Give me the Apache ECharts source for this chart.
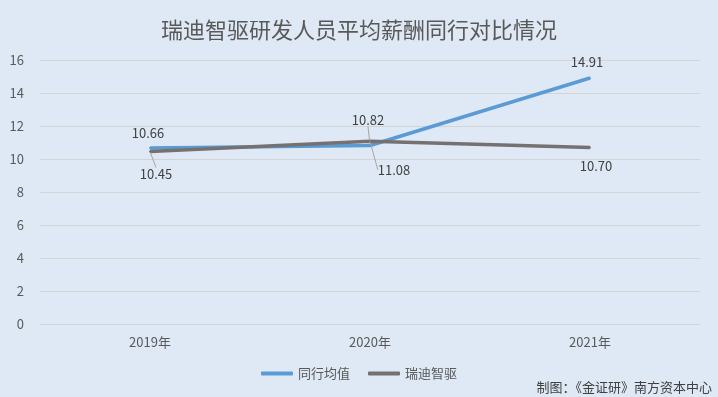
<!DOCTYPE html>
<html>
<head>
<meta charset="utf-8">
<script src="https://cdn.jsdelivr.net/npm/echarts@6/dist/echarts.min.js"></script>
<style>
  html, body { margin: 0; padding: 0; }
  #main { width: 718px; height: 397px; }
</style>
</head>
<body>
<div id="main"></div>
<script>
  var years = ['2019年', '2020年', '2021年'];
  var peerAvg = [10.66, 10.82, 14.91];   // 同行均值
  var ruidi = [10.45, 11.08, 10.70];     // 瑞迪智驱
  var yTicks = [0, 2, 4, 6, 8, 10, 12, 14, 16];

  var font = 'Noto Sans CJK SC';
  var textColor = '#595959';

  // 标签拖动位置（仿 Excel 手动调整）
  var peerShift = [[-2, -2], [-2, -12], [-3, -2]];
  var ruidiShift = [[6, 9], [24, 15], [6, 5]];
  var peerLine = [false, true, false];
  var ruidiLine = [true, true, false];

  function makeData(vals, lines) {
    return vals.map(function (v, i) {
      return { value: v, labelLine: { show: lines[i] } };
    });
  }

  function layoutFn(shift) {
    return function (p) {
      var s = shift[p.dataIndex];
      return { dx: s[0], dy: s[1] };
    };
  }

  var myChart = echarts.init(document.getElementById('main'));
  myChart.setOption({
    backgroundColor: '#dee9f5',
    animation: false,
    title: {
      text: '瑞迪智驱研发人员平均薪酬同行对比情况',
      left: 'center',
      top: 14,
      textStyle: { fontFamily: font, fontSize: 22, fontWeight: 'normal', color: textColor }
    },
    grid: { left: 40, right: 18, top: 60, bottom: 73 },
    legend: {
      bottom: 12,
      left: 'center',
      icon: 'roundRect',
      itemWidth: 32,
      itemHeight: 4,
      itemGap: 18,
      textStyle: { fontFamily: font, fontSize: 13, color: textColor },
      data: ['同行均值', '瑞迪智驱']
    },
    xAxis: {
      type: 'category',
      data: years,
      boundaryGap: true,
      axisLine: { show: false },
      axisTick: { show: false },
      axisLabel: { fontFamily: font, fontSize: 13, color: textColor, margin: 12 }
    },
    yAxis: {
      type: 'value',
      min: yTicks[0],
      max: yTicks[yTicks.length - 1],
      interval: 2,
      axisLine: { show: false },
      axisTick: { show: false },
      splitLine: { lineStyle: { color: '#d4d4d4', width: 1 } },
      axisLabel: { fontFamily: font, fontSize: 13, color: textColor, margin: 16 }
    },
    graphic: [{
      type: 'text',
      right: 6,
      bottom: 3,
      style: { text: '制图：《金证研》南方资本中心', font: '13px "Noto Sans CJK SC"', fill: '#404040' }
    }],
    series: [{
      name: '同行均值',
      type: 'line',
      symbol: 'circle',
      symbolSize: 2,
      lineStyle: { color: '#5b9bd5', width: 3.5 },
      itemStyle: { color: '#5b9bd5' },
      label: {
        show: true, position: 'top', distance: 6, fontFamily: font, fontSize: 13, color: '#404040',
        formatter: function (p) { return p.value.toFixed(2); }
      },
      labelLine: { lineStyle: { color: '#a6a6a6', width: 1 } },
      labelLayout: layoutFn(peerShift),
      data: makeData(peerAvg, peerLine)
    }, {
      name: '瑞迪智驱',
      type: 'line',
      symbol: 'circle',
      symbolSize: 2,
      lineStyle: { color: '#767171', width: 3.5 },
      itemStyle: { color: '#767171' },
      label: {
        show: true, position: 'bottom', distance: 6, fontFamily: font, fontSize: 13, color: '#404040',
        formatter: function (p) { return p.value.toFixed(2); }
      },
      labelLine: { lineStyle: { color: '#a6a6a6', width: 1 } },
      labelLayout: layoutFn(ruidiShift),
      data: makeData(ruidi, ruidiLine)
    }]
  });
</script>
</body>
</html>
